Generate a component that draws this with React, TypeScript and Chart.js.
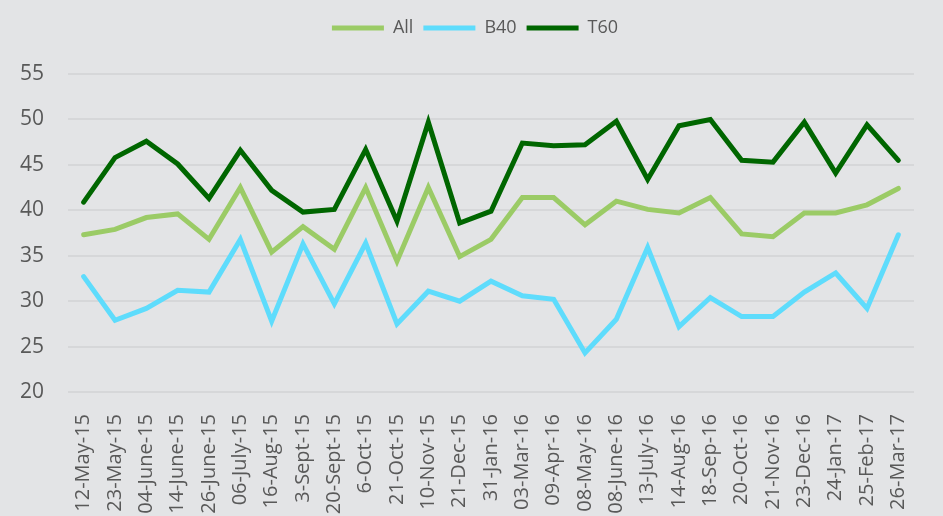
import React, { useEffect, useRef } from "react";
import { Chart, registerables } from "chart.js";

Chart.register(...registerables);

const categories: string[] = [
  "12-May-15", "23-May-15", "04-June-15", "14-June-15", "26-June-15", "06-July-15",
  "16-Aug-15", "3-Sept-15", "20-Sept-15", "6-Oct-15", "21-Oct-15", "10-Nov-15",
  "21-Dec-15", "31-Jan-16", "03-Mar-16", "09-Apr-16", "08-May-16", "08-June-16",
  "13-July-16", "14-Aug-16", "18-Sep-16", "20-Oct-16", "21-Nov-16", "23-Dec-16",
  "24-Jan-17", "25-Feb-17", "26-Mar-17",
];

const allValues: number[] = [
  37.3, 37.9, 39.2, 39.6, 36.8, 42.5, 35.4, 38.2, 35.7, 42.5, 34.4, 42.5, 34.9,
  36.8, 41.4, 41.4, 38.4, 41.0, 40.1, 39.7, 41.4, 37.4, 37.1, 39.7, 39.7, 40.6, 42.4,
];

const b40Values: number[] = [
  32.7, 27.9, 29.2, 31.2, 31.0, 36.8, 27.8, 36.3, 29.7, 36.4, 27.5, 31.1, 30.0,
  32.2, 30.6, 30.2, 24.3, 28.0, 35.9, 27.2, 30.4, 28.3, 28.3, 31.0, 33.1, 29.2, 37.3,
];

const t60Values: number[] = [
  40.9, 45.8, 47.6, 45.1, 41.3, 46.6, 42.2, 39.8, 40.1, 46.7, 38.8, 49.7, 38.6,
  39.9, 47.4, 47.1, 47.2, 49.8, 43.4, 49.3, 50.0, 45.5, 45.3, 49.7, 44.1, 49.4, 45.5,
];

const yTicks: number[] = [20, 25, 30, 35, 40, 45, 50, 55];

const legendSpacer = {
  id: "legendSpacer",
  beforeInit(chart: any) {
    const legend = chart.legend;
    if (!legend) return;
    const origFit = legend.fit;
    legend.fit = function () {
      origFit.call(this);
      this.height += 27;
    };
  },
  afterUpdate(chart: any) {
    const legend = chart.legend;
    if (!legend) return;
    legend.left += 36;
  },
};

export default function App() {
  const ref = useRef<HTMLCanvasElement | null>(null);

  useEffect(() => {
    if (!ref.current) return;
    const tickColor = "#595959";
    const chart = new Chart(ref.current, {
      type: "line",
      data: {
        labels: categories,
        datasets: [
          {
            label: "All",
            data: allValues,
            borderColor: "#9BCB66",
            backgroundColor: "#9BCB66",
            borderWidth: 5,
            pointRadius: 0,
            pointHoverRadius: 0,
            tension: 0,
            borderCapStyle: "round",
            borderJoinStyle: "miter",
          },
          {
            label: "B40",
            data: b40Values,
            borderColor: "#5EDCFC",
            backgroundColor: "#5EDCFC",
            borderWidth: 5,
            pointRadius: 0,
            pointHoverRadius: 0,
            tension: 0,
            borderCapStyle: "round",
            borderJoinStyle: "miter",
          },
          {
            label: "T60",
            data: t60Values,
            borderColor: "#006600",
            backgroundColor: "#006600",
            borderWidth: 5,
            pointRadius: 0,
            pointHoverRadius: 0,
            tension: 0,
            borderCapStyle: "round",
            borderJoinStyle: "miter",
          },
        ],
      },
      options: {
        responsive: false,
        animation: false,
        layout: { padding: { left: 0, right: 29, top: 9, bottom: 0 } },
        plugins: {
          tooltip: { enabled: false },
          legend: {
            display: true,
            position: "top",
            labels: {
              usePointStyle: true,
              pointStyle: "line",
              pointStyleWidth: 52,
              padding: 10,
              color: tickColor,
              font: { family: "'Open Sans', sans-serif", size: 18 },
            },
          },
        },
        scales: {
          x: {
            type: "category",
            offset: true,
            grid: { display: false },
            border: { display: false },
            ticks: {
              autoSkip: false,
              minRotation: 90,
              maxRotation: 90,
              padding: 14,
              color: tickColor,
              font: { family: "'Open Sans', sans-serif", size: 20 },
            },
            afterFit: (scale: any) => {
              scale.height = 124;
            },
          },
          y: {
            type: "linear",
            min: yTicks[0],
            max: yTicks[yTicks.length - 1],
            grid: { color: "#D6D7D9", lineWidth: 2, drawTicks: false },
            border: { display: false },
            afterBuildTicks: (scale: any) => {
              scale.ticks = yTicks.map((v) => ({ value: v }));
            },
            ticks: {
              padding: 24,
              color: tickColor,
              font: { family: "'Open Sans', sans-serif", size: 21 },
            },
            afterFit: (scale: any) => {
              scale.width = 68;
            },
          },
        },
      },
      plugins: [legendSpacer],
    });
    return () => chart.destroy();
  }, []);

  return (
    <div
      style={{
        position: "fixed",
        left: 0,
        top: 0,
        width: 943,
        height: 516,
        background: "#E3E4E6",
        overflow: "hidden",
      }}
    >
      <canvas ref={ref} width={943} height={516} style={{ display: "block" }} />
    </div>
  );
}
